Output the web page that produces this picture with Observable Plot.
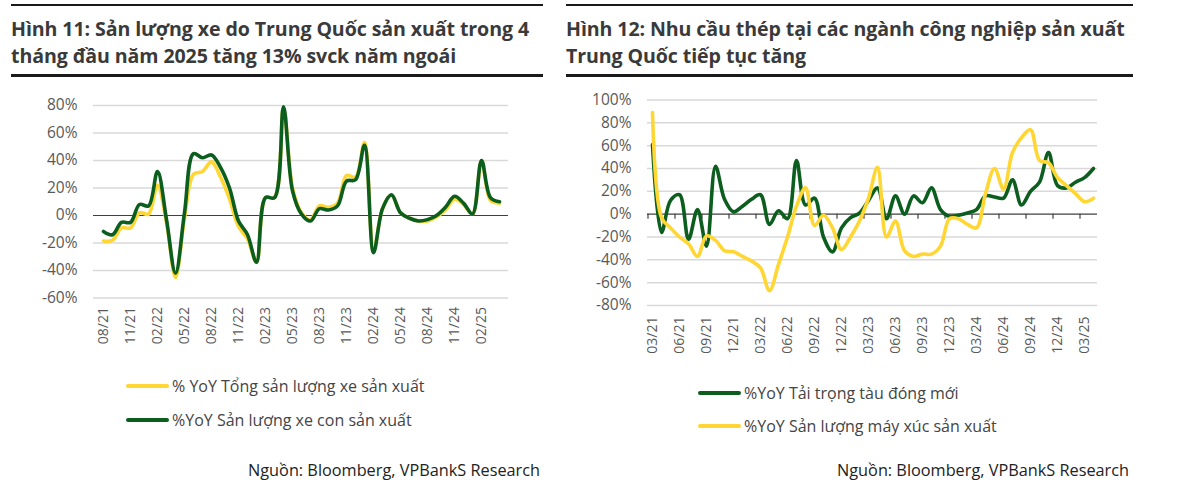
<!DOCTYPE html>
<html>
<head>
<meta charset="utf-8">
<script src="https://cdn.jsdelivr.net/npm/d3@7"></script>
<script src="https://cdn.jsdelivr.net/npm/@observablehq/plot@0.6"></script>
<style>
  html, body { margin: 0; padding: 0; background: #fff; }
  body { width: 1179px; height: 495px; position: relative; overflow: hidden; font-family: "Open Sans", sans-serif; }
  .abs { position: absolute; }
  .rule { position: absolute; background: #1a1a1a; }
  .title { position: absolute; font-weight: 700; font-size: 19.6px; line-height: 27px; color: #3a3a3a; white-space: nowrap; letter-spacing: -0.1px; }
  .leg { position: absolute; font-size: 16px; color: #444; white-space: nowrap; display: flex; align-items: center; }
  .leg .sw { width: 43px; height: 4px; border-radius: 2px; margin-right: 3px; }
  .src { position: absolute; font-size: 16.3px; color: #222; white-space: nowrap; }
  svg text { font-family: "Open Sans", sans-serif; }
  svg [aria-label="y-axis tick label"], svg [aria-label="y-axis tick label"] text { font-size: 15.5px !important; }
  svg [aria-label="x-axis tick label"], svg [aria-label="x-axis tick label"] text { font-size: 14px !important; }
</style>
</head>
<body>
<div class="rule" style="left:11px;top:4px;width:532px;height:1.5px"></div>
<div class="title" style="left:11px;top:15px">Hình 11: Sản lượng xe do Trung Quốc sản xuất trong 4<br>tháng đầu năm 2025 tăng 13% svck năm ngoái</div>
<div class="rule" style="left:11px;top:74px;width:532px;height:3px"></div>

<div class="rule" style="left:566px;top:4px;width:567px;height:1.5px"></div>
<div class="title" style="left:566px;top:15px">Hình 12: Nhu cầu thép tại các ngành công nghiệp sản xuất<br>Trung Quốc tiếp tục tăng</div>
<div class="rule" style="left:566px;top:74px;width:567px;height:3px"></div>

<div id="left" class="abs" style="left:0;top:80px"></div>
<div id="right" class="abs" style="left:570px;top:80px"></div>

<div class="leg" style="left:126px;top:375px"><span class="sw" style="background:#FFD633"></span>% YoY Tổng sản lượng xe sản xuất</div>
<div class="leg" style="left:126px;top:409px"><span class="sw" style="background:#0B5E1E"></span>%YoY Sản lượng xe con sản xuất</div>
<div class="src" style="left:248px;top:459px">Nguồn: Bloomberg, VPBankS Research</div>

<div class="leg" style="left:698px;top:382px"><span class="sw" style="background:#0B5E1E"></span>%YoY Tải trọng tàu đóng mới</div>
<div class="leg" style="left:698px;top:415px"><span class="sw" style="background:#FFD633"></span>%YoY Sản lượng máy xúc sản xuất</div>
<div class="src" style="left:837px;top:459px">Nguồn: Bloomberg, VPBankS Research</div>

<script>
// ---------- Figure 11 data ----------
const leftMonths = ["08/21","09/21","10/21","11/21","12/21","01/22","02/22","03/22","04/22","05/22","06/22","07/22","08/22","09/22","10/22","11/22","12/22","01/23","02/23","03/23","04/23","05/23","06/23","07/23","08/23","09/23","10/23","11/23","12/23","01/24","02/24","03/24","04/24","05/24","06/24","07/24","08/24","09/24","10/24","11/24","12/24","01/25","02/25","03/25","04/25"];
const totalVehicles = [-18.5,-18,-9,-9,2,1,22,-5,-45,-2,30,32,39,28,12,-8,-17,-34,13,13,78,20,2,-3,7,6,9,29,28,53,-26,5,15,2,-2,-4,-4,-1,4,12,8,1,40,11,9];
const passengerCars = [-11.6,-14,-5,-5,8,7,32,-3,-42,2,45,42,44,35,20,-4,-14,-34,13,13,79,18,1,-4,5,4,7,25,26,51,-27,5,15,2,-2,-4,-3,0,6,14,9,1,40,13,10];
const leftTickLabels = ["08/21","11/21","02/22","05/22","08/22","11/22","02/23","05/23","08/23","11/23","02/24","05/24","08/24","11/24","02/25"];
const leftYTicks = [-60,-40,-20,0,20,40,60,80];

// ---------- Figure 12 data ----------
const rightMonths = ["03/21","04/21","05/21","06/21","07/21","08/21","09/21","10/21","11/21","12/21","01/22","02/22","03/22","04/22","05/22","06/22","07/22","08/22","09/22","10/22","11/22","12/22","01/23","02/23","03/23","04/23","05/23","06/23","07/23","08/23","09/23","10/23","11/23","12/23","01/24","02/24","03/24","04/24","05/24","06/24","07/24","08/24","09/24","10/24","11/24","12/24","01/25","02/25","03/25","04/25"];
const shipTonnage = [61,-16,12,17,-22,4,-28,42,13,2,7,13,17,-9,3,-4,47,8,14,-20,-33,-12,-3,1,12,23,-4,16,0,16,10,23,4,-2,-1,1,4,16,15,14,30,8,20,28,54,25,23,28,32,40];
const excavators = [89,-3,-12,-20,-26,-37,-19,-23,-32,-33,-37,-41,-47,-67,-44,-20,7,23,-10,-1,-12,-31,-20,-6,14,41,-20,-6,-32,-37,-35,-35,-28,-4,-4,-9,-12,18,40,22,54,67,74,47,45,32,25,18,11,14];
const rightTickLabels = ["03/21","06/21","09/21","12/21","03/22","06/22","09/22","12/22","03/23","06/23","09/23","12/23","03/24","06/24","09/24","12/24","03/25"];
const rightYTicks = [-80,-60,-40,-20,0,20,40,60,80,100];

const GREEN = "#0B5E1E";
const YELLOW = "#FFD633";

function series(months, values) {
  return months.map((m, i) => ({m, v: values[i]}));
}

const pct = d => d + "%";

const leftPlot = Plot.plot({
  width: 560, height: 300,
  marginLeft: 93, marginRight: 52, marginTop: 25, marginBottom: 82.5,
  style: {fontSize: "15px", color: "#595959", background: "transparent"},
  x: {type: "point", domain: leftMonths, padding: 0.43},
  y: {domain: [-60, 80]},
  marks: [
    Plot.ruleY(leftYTicks.filter(d => d !== 0), {stroke: "#d9d9d9", strokeWidth: 1.5}),
    Plot.ruleY([0], {stroke: "#404040", strokeWidth: 1.2}),
    Plot.axisY({ticks: leftYTicks, tickFormat: pct, tickSize: 0, tickPadding: 16, label: null, fontSize: 15.5}),
    Plot.axisX({ticks: leftTickLabels, tickSize: 0, tickPadding: 9, tickRotate: -90, label: null, fontSize: 14}),
    Plot.lineY(series(leftMonths, totalVehicles), {x: "m", y: "v", stroke: YELLOW, strokeWidth: 3.6, curve: "catmull-rom"}),
    Plot.lineY(series(leftMonths, passengerCars), {x: "m", y: "v", stroke: GREEN, strokeWidth: 3.6, curve: "catmull-rom"})
  ]
});
document.getElementById("left").append(leftPlot);

const rightPlot = Plot.plot({
  width: 560, height: 300,
  marginLeft: 77, marginRight: 33, marginTop: 19.5, marginBottom: 75,
  style: {fontSize: "15px", color: "#595959", background: "transparent"},
  x: {type: "point", domain: rightMonths, padding: 0.5},
  y: {domain: [-80, 100]},
  marks: [
    Plot.ruleY(rightYTicks.filter(d => d !== 0), {stroke: "#d9d9d9", strokeWidth: 1.5}),
    Plot.ruleY([0], {stroke: "#404040", strokeWidth: 1.2}),
    Plot.ruleX(rightTickLabels, {x: d => d, y1: 0, y2: -4.5, dx: -4.5, stroke: "#404040", strokeWidth: 1.2}),
    Plot.axisY({ticks: rightYTicks, tickFormat: pct, tickSize: 0, tickPadding: 16, label: null, fontSize: 15.5}),
    Plot.axisX({ticks: rightTickLabels, tickSize: 0, tickPadding: 11, tickRotate: -90, label: null, fontSize: 14}),
    Plot.lineY(series(rightMonths, shipTonnage), {x: "m", y: "v", stroke: GREEN, strokeWidth: 3.6, curve: "catmull-rom"}),
    Plot.lineY(series(rightMonths, excavators), {x: "m", y: "v", stroke: YELLOW, strokeWidth: 3.6, curve: "catmull-rom"})
  ]
});
document.getElementById("right").append(rightPlot);
</script>
</body>
</html>
